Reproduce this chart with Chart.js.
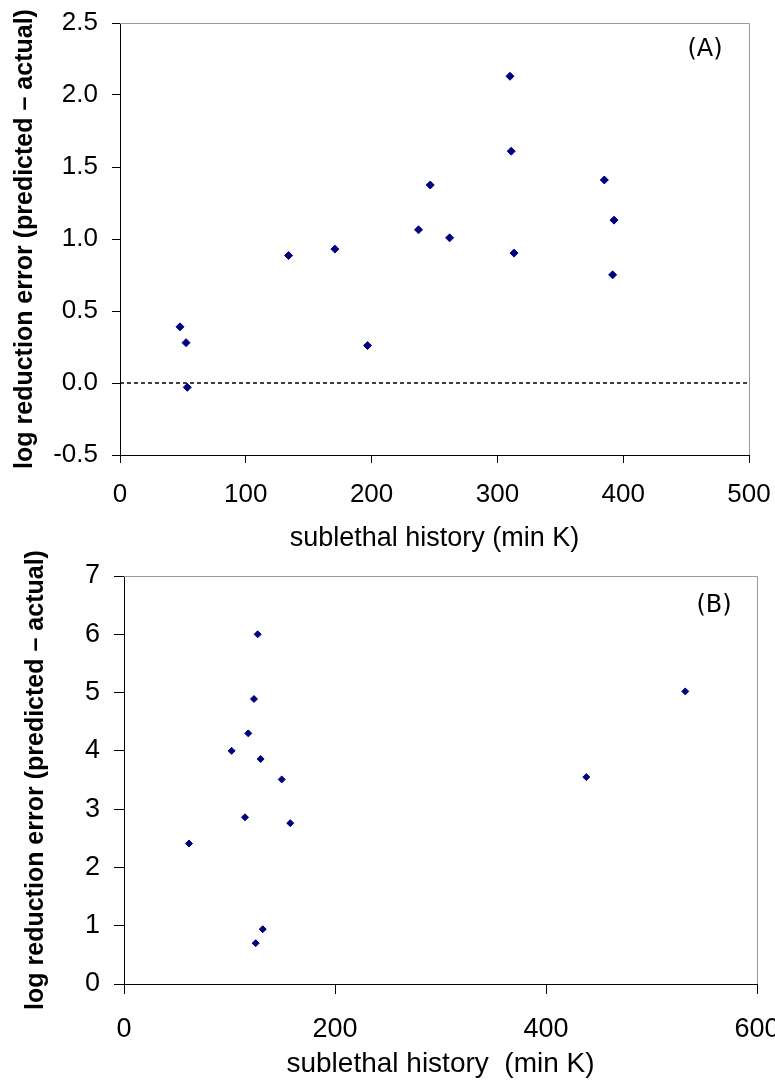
<!DOCTYPE html>
<html>
<head>
<meta charset="utf-8">
<script src="https://cdn.jsdelivr.net/npm/chart.js@4/dist/chart.umd.min.js"></script>
<style>
  html, body { margin:0; padding:0; background:#fff; overflow:hidden; width:775px; height:1084px; }
  canvas { position:absolute; left:0; }
  #chartA { top:0; }
  #chartB { top:536px; }
</style>
</head>
<body>
<canvas id="chartA" width="800" height="560"></canvas>
<canvas id="chartB" width="800" height="580"></canvas>
<script>
// panel A : sublethal history (min K) vs log reduction error
var aX = [47.7, 52.5, 53.5, 134, 170.8, 196.8, 237.3, 246.6, 262, 310, 311, 313.2, 385, 391.6, 392.7];
var aY = [0.39, 0.28, -0.03, 0.885, 0.93, 0.26, 1.064, 1.375, 1.008, 2.13, 1.61, 0.902, 1.41, 0.751, 1.131];
var aRefX = [0, 500];
var aRefY = [0, 0];
var aXTicks = [0, 500, 100];     // min, max, step
var aYTicks = [-0.5, 2.5, 0.5];

// panel B
var bX = [61.6, 102, 114.7, 117.8, 123.2, 124.8, 126.7, 129.5, 131.5, 149.5, 157.6, 438.2, 532];
var bY = [2.41, 4.0, 2.86, 4.30, 4.89, 0.70, 6.0, 3.86, 0.94, 3.51, 2.76, 3.55, 5.02];
var bXTicks = [0, 600, 200];
var bYTicks = [0, 7, 1];

var yTitle = "log reduction error (predicted \u2013 actual)";
var NAVY = "#000080";

Chart.defaults.color = "#000";
Chart.defaults.font.family = "'Liberation Sans', Arial, sans-serif";

function toPts(xs, ys) { return xs.map((x, i) => ({x: x, y: ys[i]})); }

// gray frame on top/right + panel letter
function framePlugin(letter, lx, ly) {
	return {
		id: "frame" + letter,
		afterDraw(chart) {
			var c = chart.ctx, a = chart.chartArea;
			c.save();
			c.strokeStyle = "#999";
			c.lineWidth = 1;
			c.beginPath();
			c.moveTo(a.left, a.top + 0.5);
			c.lineTo(a.right + 0.5, a.top + 0.5);
			c.lineTo(a.right + 0.5, a.bottom);
			c.stroke();
			c.fillStyle = "#000";
			c.font = "24px 'DejaVu Sans', sans-serif";
			c.textAlign = "center";
			c.textBaseline = "middle";
			c.fillText("(" + letter + ")", lx, ly);
			c.restore();
		}
	};
}

function makeChart(id, cfg) {
	var datasets = [{
		data: toPts(cfg.xs, cfg.ys),
		pointStyle: "rectRot",
		pointRadius: cfg.r,
		pointBorderWidth: 1,
		pointBackgroundColor: NAVY,
		pointBorderColor: NAVY,
		showLine: false,
		order: 0
	}];
	if (cfg.ref) {
		datasets.push({
			data: toPts(cfg.ref[0], cfg.ref[1]),
			showLine: true,
			borderColor: "#000",
			borderWidth: 1.3,
			borderDash: [4, 3],
			pointRadius: 0,
			order: 1
		});
	}
	return new Chart(document.getElementById(id), {
		type: "scatter",
		data: {datasets: datasets},
		plugins: [framePlugin(cfg.letter, cfg.lx, cfg.ly)],
		options: {
			responsive: false,
			animation: false,
			devicePixelRatio: 1,
			layout: {padding: cfg.pad},
			plugins: {legend: {display: false}, tooltip: {enabled: false}},
			scales: {
				x: {
					min: cfg.xt[0], max: cfg.xt[1],
					ticks: {stepSize: cfg.xt[2], padding: cfg.xPad, font: {size: cfg.tickSize}, maxRotation: 0},
					grid: {drawOnChartArea: false, drawTicks: true, tickLength: cfg.tl, color: "#000"},
					border: {color: "#000", width: 1},
					title: {display: true, text: cfg.xTitle, font: {size: cfg.xTitleSize}, padding: {top: cfg.xTitlePad, bottom: cfg.xTitlePad}},
					afterFit(s) { s.height = cfg.xH; s.paddingLeft = 0; s.paddingRight = 0; }
				},
				y: {
					min: cfg.yt[0], max: cfg.yt[1],
					ticks: {stepSize: cfg.yt[2], padding: cfg.yPad, font: {size: cfg.tickSize},
						callback: v => cfg.yFix ? v.toFixed(1) : String(v)},
					grid: {drawOnChartArea: false, drawTicks: true, tickLength: cfg.tl, color: "#000"},
					border: {color: "#000", width: 1},
					title: {display: true, text: yTitle, font: {size: 25, weight: "bold"}, padding: {top: cfg.yTitlePad, bottom: cfg.yTitlePad}},
					afterFit(s) { s.width = cfg.yW; s.paddingTop = 0; s.paddingBottom = 0; }
				}
			}
		}
	});
}

makeChart("chartA", {
	xs: aX, ys: aY, ref: [aRefX, aRefY], r: 4,
	xt: aXTicks, yt: aYTicks, yFix: true,
	pad: {left: 0, top: 23, right: 51, bottom: 5},
	xH: 100, yW: 120, tl: 8, xPad: 16, yPad: 14, tickSize: 26,
	xTitle: "sublethal history (min K)", xTitleSize: 27, xTitlePad: 0,
	yTitlePad: 10,
	letter: "A", lx: 705, ly: 50
});

makeChart("chartB", {
	xs: bX, ys: bY, ref: null, r: 3.5,
	xt: bXTicks, yt: bYTicks, yFix: false,
	pad: {left: 0, top: 40, right: 43, bottom: 22},
	xH: 110, yW: 124, tl: 10, xPad: 19, yPad: 14, tickSize: 27,
	xTitle: "sublethal history  (min K)", xTitleSize: 28, xTitlePad: 13,
	yTitlePad: 21,
	letter: "B", lx: 714, ly: 70
});
</script>
</body>
</html>
